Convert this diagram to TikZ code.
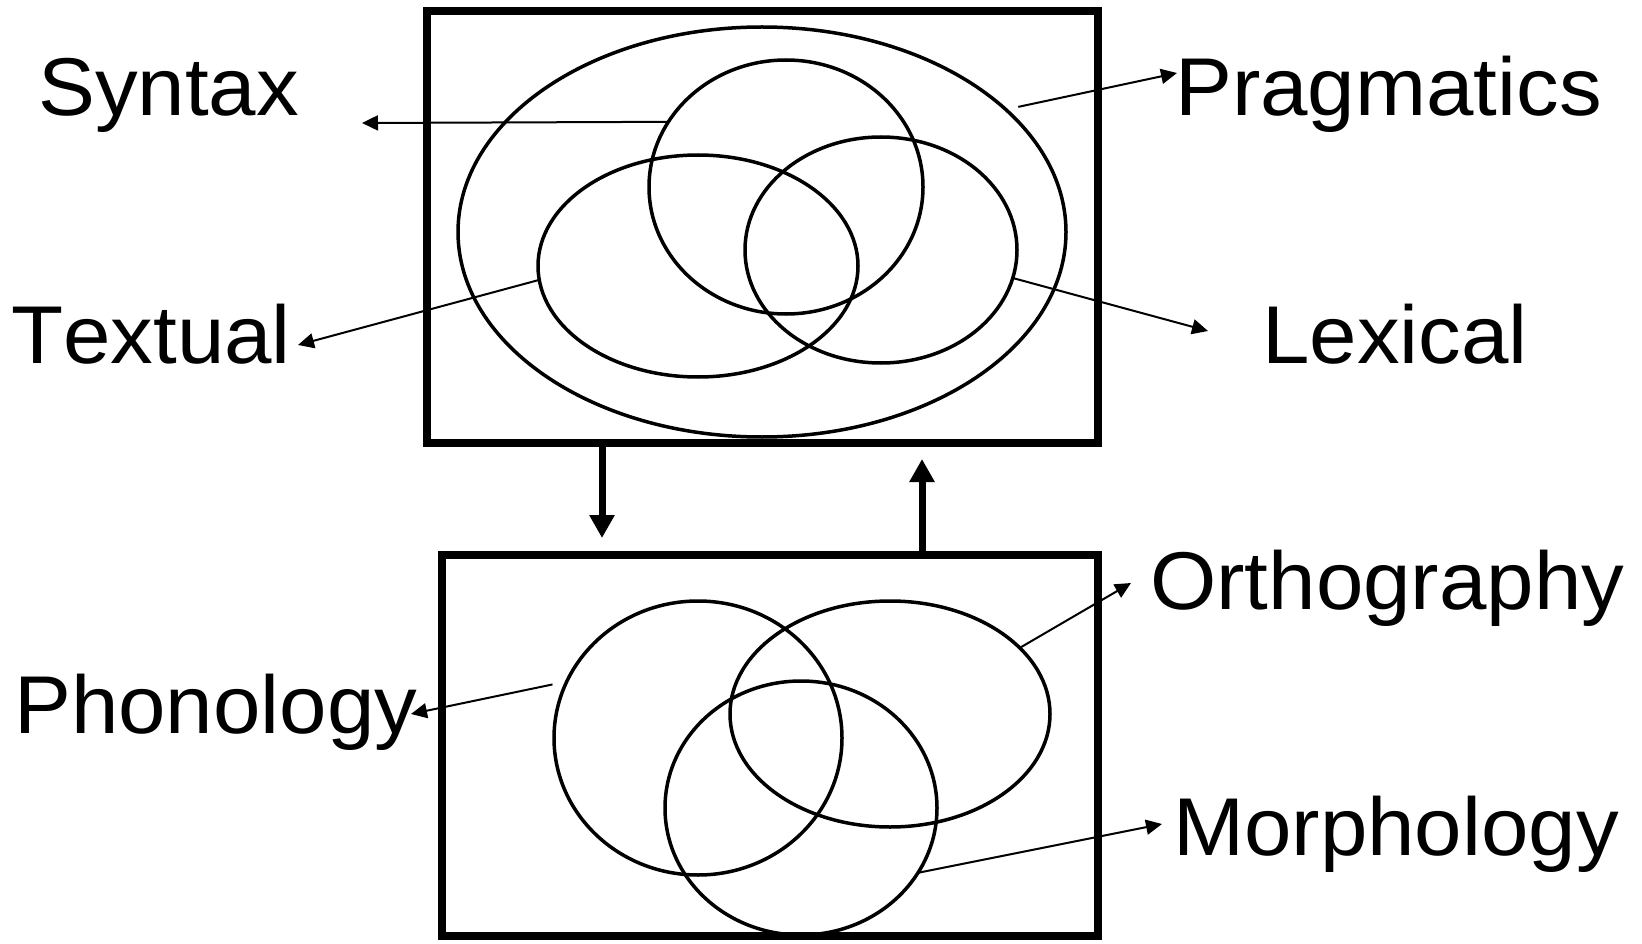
\documentclass[tikz,border=0pt]{standalone}
\usepackage{fontspec}
\setmainfont{Liberation Sans}[FakeStretch=1.04,Kerning=Off]
\usetikzlibrary{arrows.meta,shapes.geometric}
\begin{document}
\begin{tikzpicture}[x=1pt,y=-1pt,
  frame/.style={draw,line width=8pt,rectangle,inner sep=0pt,outer sep=0pt},
  set/.style={draw,ellipse,line width=3.5pt,inner sep=0pt,outer sep=0pt},
  lbl/.style={anchor=base west,inner sep=0pt,font=\fontsize{82}{98}\selectfont},
  pointer/.style={line width=2pt,-{Triangle[length=16pt,width=15pt]}},
  flow/.style={line width=7pt,-{Triangle[length=23pt,width=24pt]}}]
\useasboundingbox (0,0) rectangle (1642,944);

% upper level: discourse and sentence
\node[frame,minimum width=671pt,minimum height=432pt] (upper) at (762.5,227) {};
\node[set,minimum width=608pt,minimum height=410pt] (prag) at (762,232) {};
\node[set,minimum width=274pt,minimum height=254pt] (syn) at (786,187) {};
\node[set,minimum width=320pt,minimum height=222pt] (text) at (698,266) {};
\node[set,minimum width=272pt,minimum height=226pt] (lex) at (881,250) {};

% lower level: word and sound
\node[frame,minimum width=656pt,minimum height=381pt] (lower) at (770,745.5) {};
\node[set,minimum width=288pt,minimum height=274pt] (phon) at (698,738) {};
\node[set,minimum width=320pt,minimum height=226pt] (orth) at (890,714) {};
\node[set,minimum width=272pt,minimum height=254pt] (morph) at (801,808) {};

% labels
\node[lbl] (lsyn) at (38,116) {Syntax};
\node[lbl] (lprag) at (1175,116) {Pragmatics};
\node[lbl] (ltext) at (11,363) {Textual};
\node[lbl] (llex) at (1262,363) {Lexical};
\node[lbl] (lphon) at (14,733) {Phonology};
\node[lbl] (lorth) at (1150,609) {Orthography};
\node[lbl] (lmorph) at (1173,855) {Morphology};

% arrow tips next to the labels
\coordinate (tsyn) at (362,123);
\coordinate (tprag) at (1177,73);
\coordinate (ttext) at (298,345);
\coordinate (tlex) at (1208,331);
\coordinate (tphon) at (411,714);
\coordinate (torth) at (1131,583);
\coordinate (tmorph) at (1162,824);

\draw[pointer] (syn.151.5) -- (tsyn);
\draw[pointer] ([shift={(10,-5)}]prag.26) -- (tprag);
\draw[pointer] (text.185.3) -- (ttext);
\draw[pointer] (lex.-12.7) -- (tlex);
\draw[pointer] ([shift={(-13,0)}]phon.158.9) -- (tphon);
\draw[pointer] (orth.27) -- (torth);
\draw[pointer] (morph.-29.6) -- (tmorph);

% exchange between the two levels
\draw[flow] (upper.south -| 602,0) -- ([yshift=17pt]lower.north -| 602,0);
\draw[flow] (lower.north -| 922,0) -- ([yshift=-16pt]upper.south -| 922,0);
\end{tikzpicture}
\end{document}
